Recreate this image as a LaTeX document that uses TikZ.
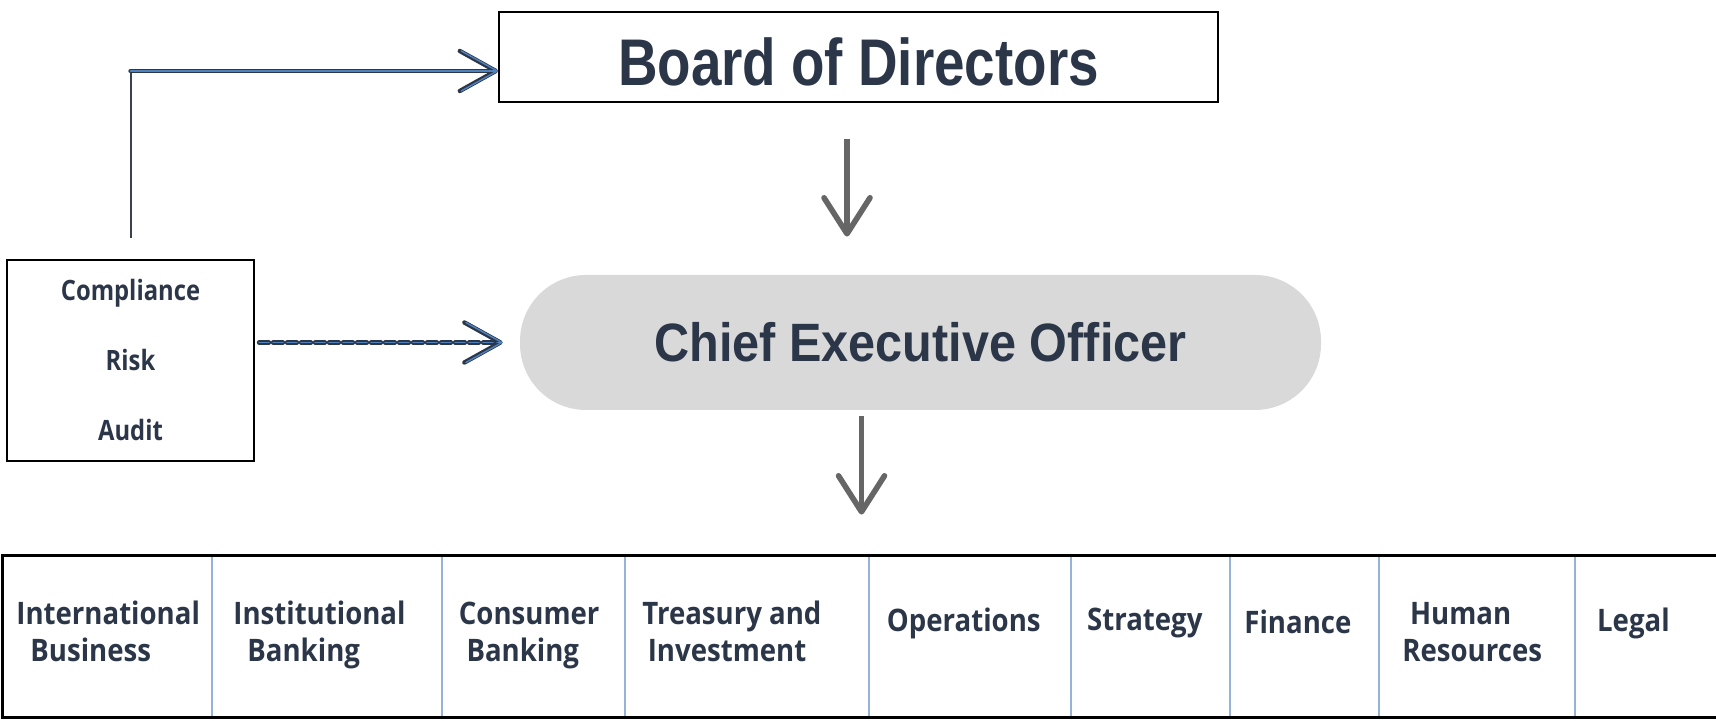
\documentclass[tikz,border=0pt]{standalone}
\usepackage{fontspec}
\usetikzlibrary{arrows.meta}
\newfontfamily\headfont[FakeStretch=0.9]{Liberation Sans}
\newfontfamily\boardfont[FakeStretch=0.83]{Liberation Sans}
\newfontfamily\unitfont[FakeStretch=0.89]{Open Sans}
\newfontfamily\sidefont[FakeStretch=0.85]{Open Sans}
\definecolor{navy}{HTML}{2B3648}
\definecolor{linkblue}{HTML}{4F81BD}
\definecolor{ceogray}{HTML}{D9D9D9}
\definecolor{arrowgray}{HTML}{666666}
\definecolor{cellline}{HTML}{95B3D7}
\begin{document}
\begin{tikzpicture}[x=0.5pt,y=0.5pt,
    box/.style={draw=black,line width=1pt,inner sep=0pt},
    barb/.style={-{Straight Barb[length=18pt,width=20pt,round]}},
    grayarrow/.style={draw=arrowgray,line width=2.8pt,-{Straight Barb[length=18pt,width=23pt,round]}},
    linkouter/.style={draw=navy,line width=2.2pt,line cap=round,barb},
    linkinner/.style={draw=linkblue,line width=0.7pt,line cap=round,barb},
    unit/.style={anchor=west,align=left,inner sep=0pt,text depth=0pt,text=navy,
        font=\unitfont\bfseries\fontsize{15.5}{18.5}\selectfont}]
    \useasboundingbox (0,0) rectangle (1716,721);

    % Board at the top, CEO in the middle
    \node[box,minimum width=359.5pt,minimum height=45pt,text height=29pt,text depth=0pt,text=navy,
        font=\boardfont\bfseries\fontsize{33}{38}\selectfont] (board) at (858.5,664) {Board of Directors};
    \node[fill=ceogray,rounded corners=33pt,minimum width=400.5pt,minimum height=67.5pt,text=navy,
        font=\headfont\bfseries\fontsize{27}{32}\selectfont] (ceo) at (920.5,378.5) {Chief Executive Officer};

    % Control functions on the left
    \node[box,minimum width=123.5pt,minimum height=100.5pt,align=center,text=navy,
        font=\sidefont\bfseries\fontsize{14}{35}\selectfont] (comp) at (130.5,360.5) {Compliance\\Risk\\Audit};

    % Row of business units
    \node[minimum width=858.5pt,minimum height=80.5pt,inner sep=0pt] (units) at (861.5,84.5) {};
    \draw[line width=1.5pt] (units.north east) -- (units.north west) -- (units.south west) -- (units.south east);
    \foreach \x in {212,442,625,869,1071,1230,1379,1575}
        \draw[cellline,line width=0.6pt] (\x,164) -- (\x,5);

    \node[unit] (intl) at (16,89.5) {International\\\hspace{7pt}Business};
    \node[unit] (inst) at (233,89.5) {Institutional\\\hspace{7pt}Banking};
    \node[unit] (cons) at (458.5,89.5) {Consumer\\\hspace{3.8pt}Banking};
    \node[unit] (treas) at (642,89.5) {Treasury and\\\hspace{2.7pt}Investment};
    \node[unit] (ops) at (886.5,101.3) {Operations};
    \node[unit] (strat) at (1086.7,101.3) {Strategy};
    \node[unit] (fin) at (1244,99.1) {Finance};
    \node[unit] (hr) at (1402,89.5) {\hspace{3.8pt}Human\\Resources};
    \node[unit] (legal) at (1596.7,101.3) {Legal};

    % Reporting lines
    \draw[grayarrow,shorten <=18pt,shorten >=19pt] ([xshift=-5.75pt]board.south) -- ([xshift=-5.75pt]board.south |- ceo.north);
    \draw[grayarrow,shorten <=3pt,shorten >=20.5pt] ([xshift=-29.5pt]ceo.south) -- ([xshift=-29.5pt]ceo.south |- units.north);

    % Direct line from the control functions to the board
    \path (comp.north |- board.west) ++(0,-14) coordinate (bend);
    \draw[navy!85!gray,line width=1pt,shorten <=10.5pt] (comp.north) -- (bend);
    \draw[linkouter] (bend) -- (bend -| board.west);
    \draw[linkinner] (bend) -- (bend -| board.west);

    % Dotted line to the CEO
    \draw[linkouter,dash pattern=on 5pt off 2pt,shorten <=2pt,shorten >=8.5pt] (comp.east |- ceo.west) -- (ceo.west);
    \draw[linkinner,dash pattern=on 5pt off 2pt,shorten <=2pt,shorten >=8.5pt] (comp.east |- ceo.west) -- (ceo.west);
\end{tikzpicture}
\end{document}
